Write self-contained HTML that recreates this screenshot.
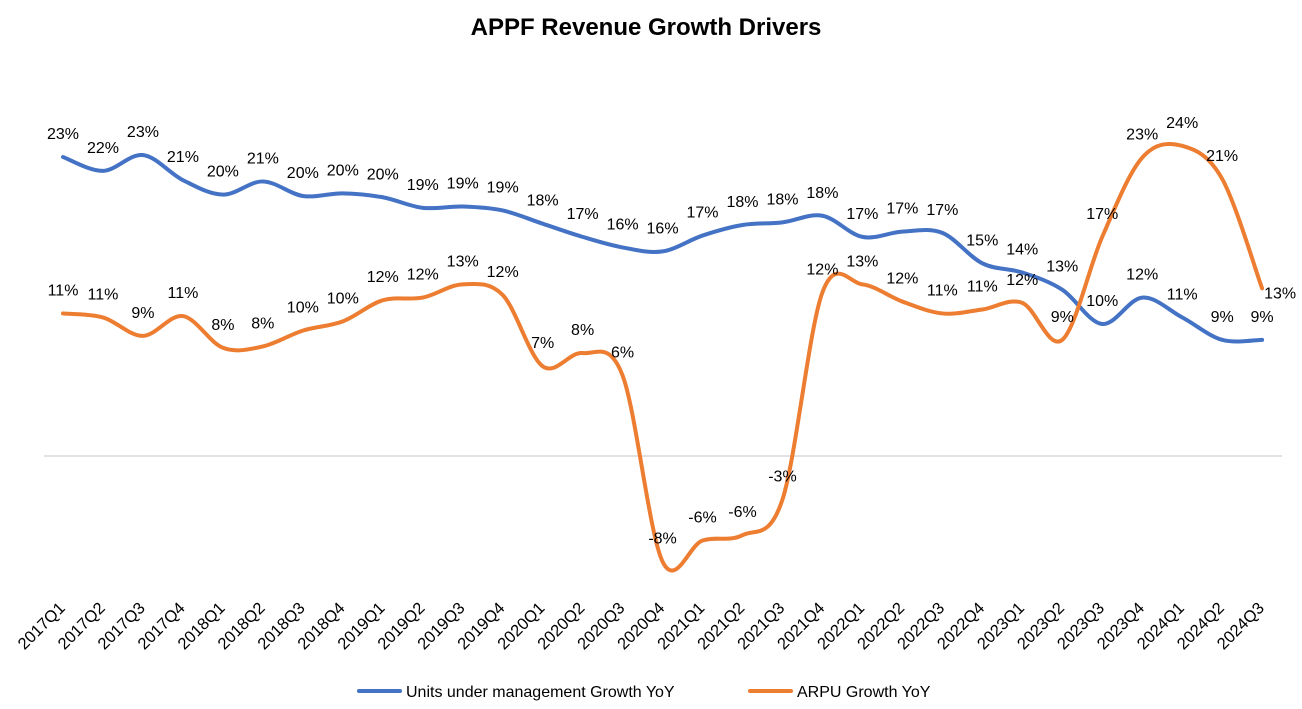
<!DOCTYPE html>
<html><head><meta charset="utf-8"><style>
body{margin:0;background:#fff;}
svg{display:block;font-family:"Liberation Sans",Arial,sans-serif;}
</style></head><body>
<svg id="chart" width="1302" height="709">
<rect width="1302" height="709" fill="#fff"/>
<text x="646" y="35" text-anchor="middle" font-size="24" font-weight="bold">APPF Revenue Growth Drivers</text>
<line x1="44" x2="1282" y1="456" y2="456" stroke="#d0d0d0" stroke-width="1.3"/>
<g id="xaxis"></g>
<g id="series"></g>
<g>
<g><line x1="359" x2="400" y1="691" y2="691" stroke="#4472C4" stroke-width="4" stroke-linecap="round"/><text x="406" y="697" font-size="16">Units under management Growth YoY</text></g>
<g><line x1="750" x2="791" y1="691" y2="691" stroke="#ED7D31" stroke-width="4" stroke-linecap="round"/><text x="797" y="697" font-size="16">ARPU Growth YoY</text></g>
</g>
</svg>
<script>
const categories=["2017Q1","2017Q2","2017Q3","2017Q4","2018Q1","2018Q2","2018Q3","2018Q4","2019Q1","2019Q2","2019Q3","2019Q4","2020Q1","2020Q2","2020Q3","2020Q4","2021Q1","2021Q2","2021Q3","2021Q4","2022Q1","2022Q2","2022Q3","2022Q4","2023Q1","2023Q2","2023Q3","2023Q4","2024Q1","2024Q2","2024Q3"];
const unitsGrowth=[22.65,21.6,22.8,20.9,19.8,20.8,19.7,19.9,19.6,18.8,18.9,18.6,17.6,16.6,15.8,15.5,16.7,17.5,17.7,18.2,16.6,17.0,16.9,14.6,13.9,12.6,10.0,12.0,10.5,8.8,8.8];
const arpuGrowth=[10.8,10.5,9.1,10.6,8.2,8.3,9.5,10.2,11.8,12.0,13.0,12.2,6.8,7.8,6.1,-8.0,-6.4,-6.0,-3.3,12.4,13.0,11.7,10.8,11.1,11.6,8.8,16.6,22.6,23.5,21.0,12.7];
const NS="http://www.w3.org/2000/svg";
const x=i=>63+i*39.97;
const y=v=>456-v*13.2;
const xg=document.getElementById('xaxis'),sg=document.getElementById('series');
categories.forEach((c,i)=>{
 const t=document.createElementNS(NS,'text');
 
 
 t.setAttribute('font-size','16.5');t.setAttribute('text-anchor','end');
 t.setAttribute('transform',`translate(${x(i)+3},${609}) rotate(-45)`);
 t.textContent=c;xg.appendChild(t);
});
function path(vals){
 const p=vals.map((v,i)=>[x(i),y(v)]);
 let d=`M${p[0][0]},${p[0][1]}`;
 for(let i=0;i<p.length-1;i++){
  const p0=p[Math.max(i-1,0)],p1=p[i],p2=p[i+1],p3=p[Math.min(i+2,p.length-1)];
  const k=1/6;
  d+=` C${p1[0]+(p2[0]-p0[0])*k},${p1[1]+(p2[1]-p0[1])*k} ${p2[0]-(p3[0]-p1[0])*k},${p2[1]-(p3[1]-p1[1])*k} ${p2[0]},${p2[1]}`;
 }
 return d;
}
function draw(vals,color,name){
 const pa=document.createElementNS(NS,'path');
 
 
 pa.setAttribute('d',path(vals));pa.setAttribute('fill','none');
 pa.setAttribute('stroke',color);pa.setAttribute('stroke-width','4');pa.setAttribute('stroke-linecap','round');
 sg.appendChild(pa);
 vals.forEach((v,i)=>{
  const t=document.createElementNS(NS,'text');
  
  
  t.setAttribute('font-size','16');
  let tx=x(i),ty=y(v)-18,anc='middle';
  if(name==='arpu'&&i===vals.length-1){tx=x(i)+2;ty=y(v)+10;anc='start';}
  t.setAttribute('x',tx);t.setAttribute('y',ty);t.setAttribute('text-anchor',anc);
  t.textContent=Math.round(v)+'%';sg.appendChild(t);
 });
}
draw(unitsGrowth,'#4472C4','units');
draw(arpuGrowth,'#ED7D31','arpu');
</script>
</body></html>
